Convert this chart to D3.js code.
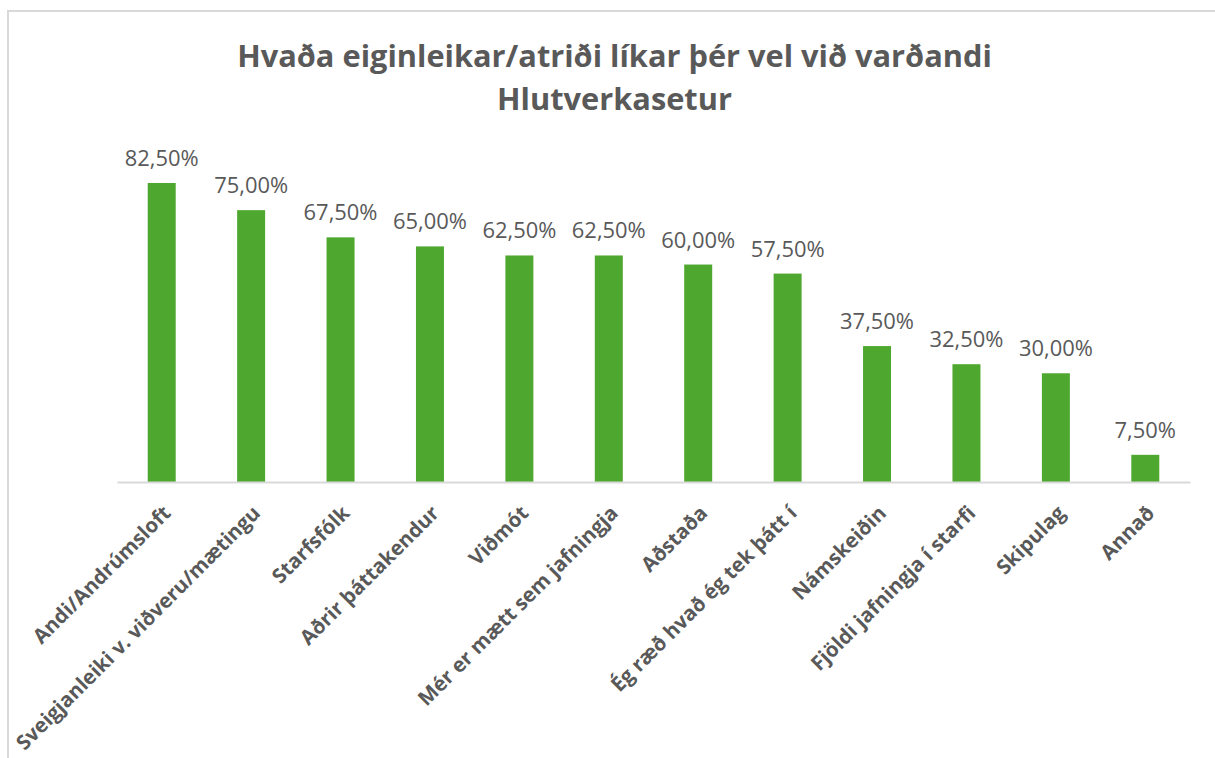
<!DOCTYPE html>
<html lang="is">
  <head>
    <meta charset="utf-8">
    <title>Hlutverkasetur</title>
    <style>
      body { margin: 0; background: #fff; }
      text { font-family: "Open Sans", sans-serif; fill: #595959; }
    </style>
  </head>
  <body>
    <svg width="1215" height="758"></svg>

    <script src="https://cdn.jsdelivr.net/npm/d3@7"></script>
    <script>

    // data
    var categories = ["Andi/Andrúmsloft", "Sveigjanleiki v. viðveru/mætingu", "Starfsfólk",
      "Aðrir þáttakendur", "Viðmót", "Mér er mætt sem jafningja", "Aðstaða",
      "Ég ræð hvað ég tek þátt í", "Námskeiðin", "Fjöldi jafningja í starfi",
      "Skipulag", "Annað"];
    var values = [82.5, 75, 67.5, 65, 62.5, 62.5, 60, 57.5, 37.5, 32.5, 30, 7.5];
    var titleLines = ["Hvaða eiginleikar/atriði líkar þér vel við varðandi", "Hlutverkasetur"];

    var svg = d3.select("svg"),
        width = +svg.attr("width"),
        height = +svg.attr("height");

    // chart border (runs off the right/bottom edge like the original crop)
    svg.append("rect")
        .attr("x", 8).attr("y", 11)
        .attr("width", 1225).attr("height", 780)
        .attr("fill", "#fff")
        .attr("stroke", "#d9d9d9")
        .attr("stroke-width", 2);

    var x = d3.scaleBand()
        .domain(categories)
        .range([117, 1190])
        .paddingInner(0.687)
        .paddingOuter(0.3435);

    var y = d3.scaleLinear()
        .domain([0, 90])
        .range([482, 155.8]);

    // scale a text's font so its width hits a target
    function fit(sel, base, target) {
      sel.style("font-size", base + "px");
      var w = sel.node().getComputedTextLength();
      sel.style("font-size", (base * target / w) + "px");
    }

    // title
    var title = svg.append("g");
    var t1 = title.append("text")
        .attr("x", 614.5).attr("y", 67)
        .attr("text-anchor", "middle")
        .style("font-weight", "bold")
        .text(titleLines[0]);
    fit(t1, 28, 755);
    title.append("text")
        .attr("x", 614.5).attr("y", 110)
        .attr("text-anchor", "middle")
        .style("font-weight", "bold")
        .style("font-size", t1.style("font-size"))
        .text(titleLines[1]);

    var data = categories.map(function(c, i) { return { name: c, value: values[i] }; });

    // bars
    svg.append("g").selectAll("rect")
        .data(data)
      .enter().append("rect")
        .attr("x", function(d) { return x(d.name); })
        .attr("y", function(d) { return y(d.value); })
        .attr("width", x.bandwidth())
        .attr("height", function(d) { return y(0) - y(d.value); })
        .attr("fill", "#4ea72e");

    // axis line
    var axis = svg.append("g")
        .attr("transform", "translate(0," + y(0) + ")")
        .call(d3.axisBottom(x).tickSize(0).tickFormat(""));
    axis.select(".domain").attr("stroke", "#d9d9d9").attr("stroke-width", 2);

    // value labels
    var fmt = function(v) { return d3.format(".2f")(v).replace(".", ",") + "%"; };
    var labels = svg.append("g").selectAll("text")
        .data(data)
      .enter().append("text")
        .attr("x", function(d) { return x(d.name) + x.bandwidth() / 2; })
        .attr("y", function(d) { return y(d.value) - 17; })
        .attr("text-anchor", "middle")
        .text(function(d) { return fmt(d.value); });
    fit(labels.filter(function(d, i) { return i === 0; }), 18, 74);
    labels.style("font-size", labels.node().style.fontSize);

    // category labels, rotated
    var cats = svg.append("g").selectAll("text")
        .data(data)
      .enter().append("text")
        .attr("transform", function(d) {
          return "translate(" + (x(d.name) + x.bandwidth() / 2) + ",504) rotate(-45)";
        })
        .attr("text-anchor", "end")
        .attr("dy", "0.72em")
        .style("font-weight", "bold")
        .text(function(d) { return d.name; });
    fit(cats.filter(function(d, i) { return i === 1; }), 18, 335);
    cats.style("font-size", cats.filter(function(d, i) { return i === 1; }).style("font-size"));

    </script>
  </body>
</html>
